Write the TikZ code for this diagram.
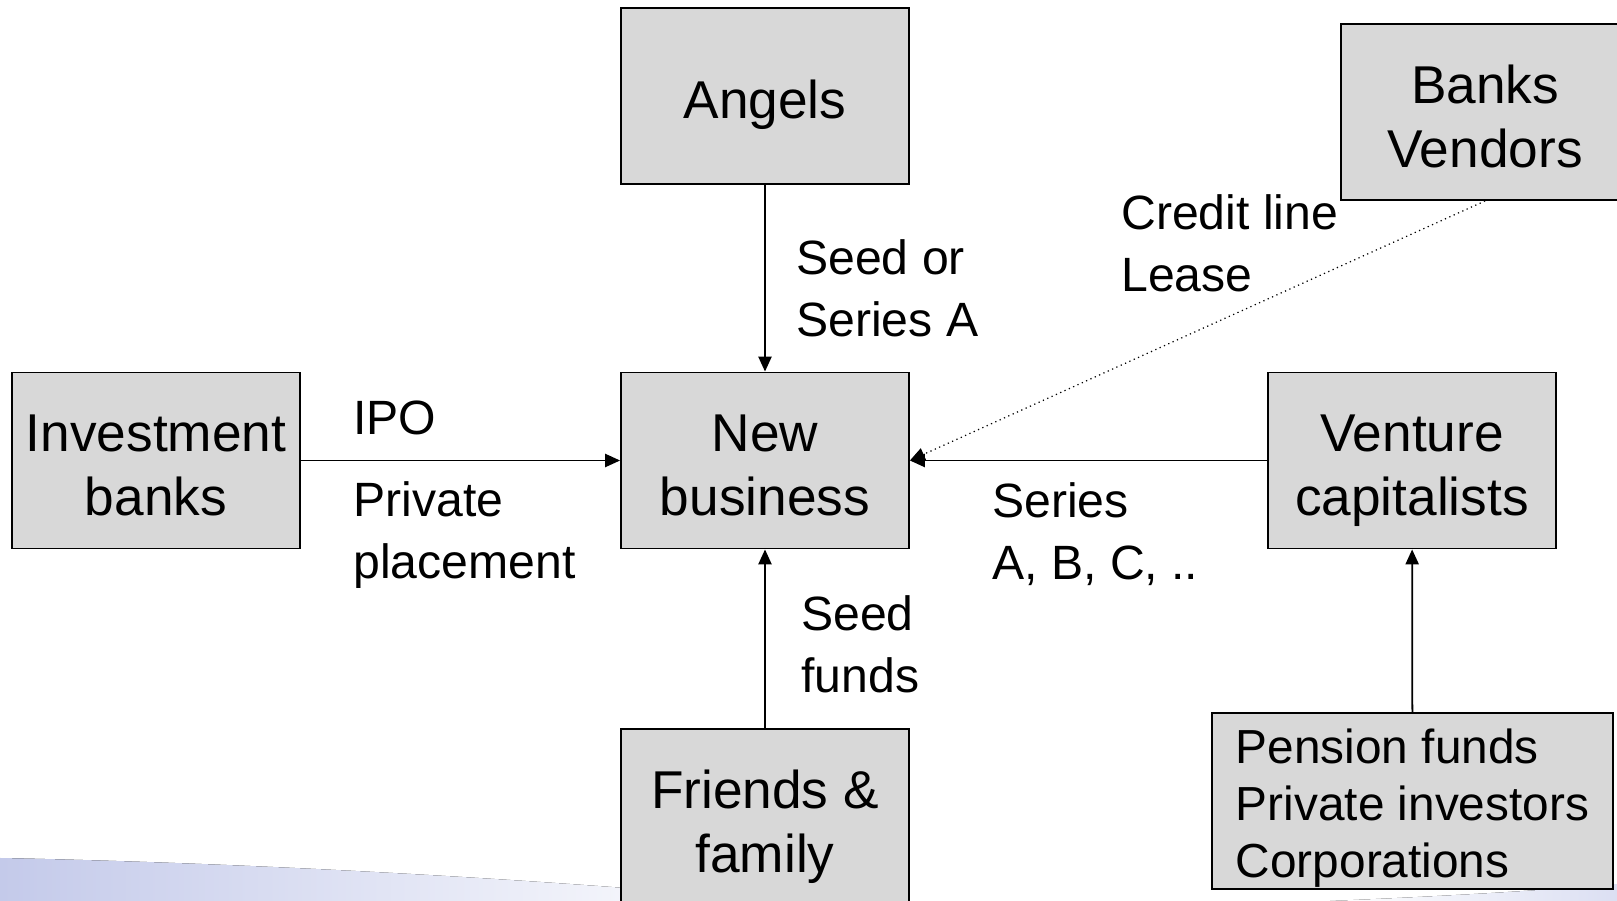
\documentclass[tikz,border=0pt]{standalone}
\usepackage{fontspec}
\setmainfont{Liberation Sans}
\usetikzlibrary{arrows.meta}
\definecolor{boxgray}{RGB}{216,216,216}
\definecolor{swoosh}{RGB}{196,202,234}

\begin{document}
\begin{tikzpicture}[x=0.02cm,y=-0.02cm,
   box/.style={draw,line width=1.1pt,fill=boxgray,minimum width=5.76cm,minimum height=3.52cm,
      align=center,inner sep=0pt,text height=62.8pt,text depth=0pt,font=\fontsize{30.3}{36.4}\selectfont},
   lbl/.style={anchor=west,align=left,inner sep=0pt,font=\fontsize{27.4}{35.2}\selectfont},
   flow/.style={line width=1pt,-{Triangle[length=8.5pt,width=7.5pt]}}]
   \clip (0,0) rectangle (1617,901);
   \fill[left color=swoosh,right color=white] (0,901) -- (0,858) .. controls (300,864) and (600,884) .. (780,901) -- cycle;
   \fill[left color=white,right color=swoosh!60] (1330,901) .. controls (1450,896) and (1550,890) .. (1617,884) -- (1617,901) -- cycle;

   \node[box,text height=25.2pt] (angels) at (765,96) {Angels};
   \node[box] (newbiz) at (765,460.5) {New\\business};
   \node[box] (invbanks) at (156,460.5) {Investment\\banks};
   \node[box] (venture) at (1412,460.5) {Venture\\capitalists};
   \node[box] (bankvend) at (1485,112) {Banks\\Vendors};
   \node[box] (friends) at (765,817) {Friends \&\\family};
   \node[box,minimum width=8.02cm,align=left,text height=87pt,font=\fontsize{27.2}{32.3}\selectfont] (pension) at (1412.5,801)
      {Pension funds\\Private investors\\Corporations};

   \draw[flow] (angels) -- (newbiz);
   \draw[flow] (friends) -- (newbiz);
   \draw[flow] (invbanks) -- (newbiz);
   \draw[flow] (venture) -- (newbiz);
   \draw[flow] (pension) -- (venture);
   \draw[dotted,line width=0.7pt,-{Triangle[length=8.5pt,width=7.5pt]}] (bankvend.south) -- (newbiz.east);

   \node[lbl] (seedA) at (796,288) {Seed or\\Series A};
   \node[lbl] (credit) at (1121,243) {Credit line\\Lease};
   \node[lbl] (ipo) at (353,418) {IPO};
   \node[lbl] (private) at (353,535) {Private\\placement};
   \node[lbl] (series) at (992,534) {Series\\A, B, C, ..};
   \node[lbl] (seedfunds) at (801,644) {Seed\\funds};
\end{tikzpicture}
\end{document}
